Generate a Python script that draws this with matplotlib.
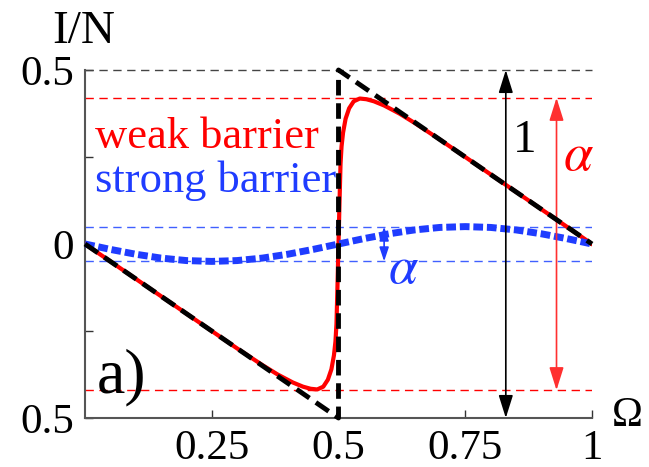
import numpy as np
import matplotlib.pyplot as plt

plt.rcParams['font.family'] = ['Liberation Serif', 'DejaVu Serif']
plt.rcParams['mathtext.fontset'] = 'stix'

#data
omega_saw = [0, 0.5, 0.5, 1]          #ideal sawtooth (no barrier)
curr_saw = [0, -0.5, 0.5, 0]

omega_weak = [0, 0.1, 0.2, 0.3, 0.35, 0.38, 0.41, 0.43, 0.445, 0.458, 0.47, 0.479,
              0.486, 0.491, 0.494, 0.496, 0.498, 0.5, 0.502, 0.504, 0.506, 0.509,
              0.514, 0.521, 0.53, 0.542, 0.555, 0.57, 0.59, 0.62, 0.65, 0.7, 0.8, 0.9, 1]
curr_weak = [0, -0.1, -0.2, -0.3, -0.348, -0.375, -0.398, -0.41, -0.416, -0.418, -0.41, -0.39,
             -0.36, -0.32, -0.28, -0.23, -0.12, 0, 0.12, 0.23, 0.28, 0.32,
             0.36, 0.39, 0.41, 0.418, 0.416, 0.41, 0.398, 0.375, 0.348, 0.3, 0.2, 0.1, 0]

omega_strong = [0, 0.05, 0.1, 0.15, 0.2, 0.25, 0.3, 0.35, 0.4, 0.45, 0.5,
                0.55, 0.6, 0.65, 0.7, 0.75, 0.8, 0.85, 0.9, 0.95, 1]
curr_strong = [0, -0.0155, -0.0294, -0.0405, -0.0476, -0.05, -0.0476, -0.0405, -0.0294, -0.0155, 0,
               0.0155, 0.0294, 0.0405, 0.0476, 0.05, 0.0476, 0.0405, 0.0294, 0.0155, 0]

alpha_weak = 0.42     #amplitude of weak barrier curve
alpha_strong = 0.05   #amplitude of strong barrier curve

red = '#ff0000'
blue = '#1f3cff'

fig = plt.figure(figsize=(6.49, 4.67), dpi=100)
ax = fig.add_axes([85/649, 49/467, 507/649, 348/467])
ax.set_xlim(0, 1)
ax.set_ylim(-0.5, 0.5)

#horizontal reference lines
ax.plot([0, 1], [0.5, 0.5], color='#444444', lw=1, ls=(0, (6, 4)), clip_on=False)
for s in (1, -1):
    ax.plot([0, 1], [s*alpha_weak]*2, color=red, lw=1, ls=(0, (6, 4)))
    ax.plot([0, 1], [s*alpha_strong]*2, color='#4060ff', lw=1, ls=(0, (6, 4)))

#curves
ax.plot(omega_weak, curr_weak, color=red, lw=3, solid_joinstyle='round', zorder=3)
ax.plot(omega_strong, curr_strong, color=blue, lw=5, ls=(0, (1.4, 0.55)), zorder=3)
ax.plot(omega_saw, curr_saw, color='black', lw=3.5, ls=(0, (3.2, 1.6)), zorder=4, clip_on=False)

#arrows
ax.annotate('', xy=(0.83, 0.5), xytext=(0.83, -0.5),
            arrowprops=dict(arrowstyle='<|-|>,head_length=0.7,head_width=0.22',
                            mutation_scale=20, lw=1.2, color='black', shrinkA=0, shrinkB=0))
ax.annotate('', xy=(0.93, alpha_weak), xytext=(0.93, -alpha_weak),
            arrowprops=dict(arrowstyle='<|-|>,head_length=0.7,head_width=0.22',
                            mutation_scale=20, lw=1.2, color='#ff3030', shrinkA=0, shrinkB=0))
ax.annotate('', xy=(0.59, alpha_strong), xytext=(0.59, -alpha_strong),
            arrowprops=dict(arrowstyle='<|-|>,head_length=0.6,head_width=0.2',
                            mutation_scale=14, lw=1.2, color=blue, shrinkA=0, shrinkB=0))

#texts
ax.text(0.02, 0.276, 'weak barrier', color=red, fontsize=32, va='baseline')
ax.text(0.02, 0.149, 'strong barrier', color=blue, fontsize=32, va='baseline')
ax.text(0.024, -0.428, 'a)', color='black', fontsize=46, va='baseline')
ax.text(0.844, 0.264, '1', color='black', fontsize=34, va='baseline')
ax.text(0.943, 0.25, r'$\alpha$', color=red, fontsize=38, va='center')
ax.text(0.598, -0.075, r'$\alpha$', color=blue, fontsize=38, va='center')
fig.text(84/649, 1-43/467, 'I/N', fontsize=34, ha='center', va='baseline')
fig.text(612/649, 1-416/467, 'Ω', fontsize=30, ha='left', va='center')

#axes styling
for side in ('top', 'right'):
    ax.spines[side].set_visible(False)
for side in ('left', 'bottom'):
    ax.spines[side].set_color('#555555')
    ax.spines[side].set_linewidth(1.5)
ax.set_xticks([0.25, 0.5, 0.75, 1])
ax.set_xticklabels(['0.25', '0.5', '0.75', '1'])
ax.set_yticks([-0.5, -0.25, 0, 0.25, 0.5])
ax.set_yticklabels(['0.5', '', '0', '', '0.5'])
ax.tick_params(direction='in', length=6, width=1, color='#333333', labelsize=31, pad=8)

fig.savefig('out.png', dpi=100)
